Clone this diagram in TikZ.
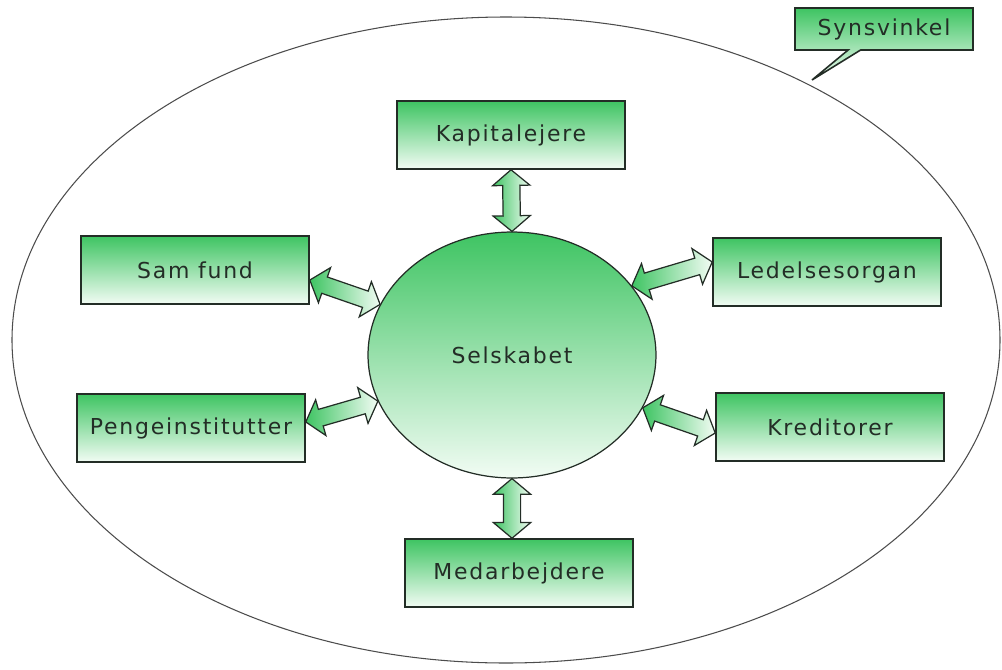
\documentclass[tikz,border=0pt]{standalone}
\usepackage{fontspec}
\newfontfamily\diafont[LetterSpace=8]{DejaVu Sans}
\usetikzlibrary{shapes.geometric,shapes.arrows,shapes.callouts,calc}

\definecolor{gronmoerk}{RGB}{62,196,98}
\definecolor{gronlys}{RGB}{242,252,244}
\definecolor{kant}{RGB}{35,45,38}

\tikzset{
  boks/.style={draw=kant,line width=0.9pt,top color=gronmoerk,bottom color=gronlys,
    minimum width=4.56cm,minimum height=1.36cm,inner sep=0pt,
    font=\diafont\fontsize{12.5}{14}\selectfont,text=kant},
  midte/.style={ellipse,draw=kant,line width=0.7pt,top color=gronmoerk,bottom color=gronlys,
    minimum width=5.76cm,minimum height=4.92cm,inner sep=0pt,
    font=\diafont\fontsize{12.5}{14}\selectfont,text=kant},
  pil/.style={double arrow,draw=kant,line width=0.7pt,left color=gronmoerk,right color=gronlys,
    double arrow head extend=0.2cm,double arrow tip angle=100,inner xsep=0pt,inner ysep=0.16cm},
}

% tovejs blokpil mellem to punkter
\newcommand{\tovejspil}[2]{%
  \path let \p1=(#1), \p2=(#2),
    \n1={atan2(\y2-\y1,\x2-\x1)}, \n2={veclen(\x2-\x1,\y2-\y1)} in
    node[pil,rotate=\n1,minimum height=\n2] at ($(#1)!.5!(#2)$) {};}

\begin{document}
\begin{tikzpicture}[x=0.02cm,y=-0.02cm]
\useasboundingbox (0,0) rectangle (1002,670);

% ramme
\draw[draw=black!70,line width=0.6pt] (506,340) ellipse [x radius=494, y radius=323];

\node[boks,rectangle callout,callout absolute pointer={(812,80)},minimum width=3.56cm,minimum height=0.84cm] (synsvinkel) at (884,29) {Synsvinkel};

\node[midte] (selskab) at (512,355) {Selskabet};

\node[boks] (kapital) at (511,135) {Kapitalejere};
\node[boks] (samfund) at (195,270) {Sam fund};
\node[boks] (ledelse) at (827,272) {Ledelsesorgan};
\node[boks] (penge) at (191,428) {Pengeinstitutter};
\node[boks] (kredit) at (830,427) {Kreditorer};
\node[boks] (medarb) at (519,573) {Medarbejdere};

% pile
\tovejspil{kapital.south}{selskab.north}
\tovejspil{selskab.south}{selskab.south |- medarb.north}
\tovejspil{samfund.-5}{selskab.159}
\tovejspil{selskab.30}{ledelse.175}
\tovejspil{penge.3}{selskab.199}
\tovejspil{selskab.338}{kredit.183}

\end{tikzpicture}
\end{document}
